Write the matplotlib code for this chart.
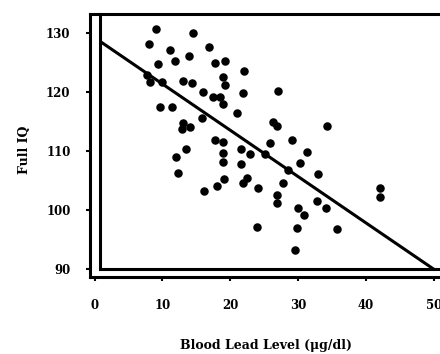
import numpy as np
import matplotlib.pyplot as plt

# blood lead (ug/dl) vs full IQ
lead = [9.02, 14.55, 8.07, 11.12, 13.88, 11.88, 9.31, 16.83, 17.78, 19.21,
        22.07, 18.92, 19.21, 7.69, 8.17, 9.98, 13.02, 14.36, 15.97, 17.50,
        18.45, 18.92, 21.88, 27.02, 9.69, 11.40, 13.02, 14.07, 12.93, 15.88,
        13.50, 11.95, 12.26, 21.02, 26.25, 26.92, 34.25, 17.78, 18.92, 18.92,
        21.59, 22.92, 25.87, 25.11, 29.11, 31.30, 30.25, 28.54, 18.92, 21.59,
        19.11, 22.45, 21.88, 18.07, 24.06, 27.78, 16.16, 26.92, 26.92, 29.97,
        30.82, 29.87, 23.97, 29.59, 32.92, 32.82, 34.16, 35.77, 42.06, 42.06]
iq = [130.7, 130.0, 128.1, 127.1, 126.1, 125.3, 124.7, 127.6, 124.9, 125.3,
      123.6, 122.5, 121.2, 122.9, 121.7, 121.7, 121.9, 121.5, 120.0, 119.2,
      119.2, 118.0, 119.8, 120.2, 117.5, 117.5, 114.7, 114.1, 113.7, 115.6,
      110.3, 109.0, 106.3, 116.4, 114.9, 114.2, 114.2, 111.9, 111.5, 109.7,
      110.3, 109.5, 111.4, 109.5, 111.9, 109.8, 108.0, 106.8, 108.1, 107.8,
      105.3, 105.4, 104.6, 104.1, 103.7, 104.6, 103.2, 102.5, 101.2, 100.3,
      99.2, 96.9, 97.1, 93.2, 106.1, 101.5, 100.3, 96.8, 103.7, 102.2]

# fitted line as printed
fit_intercept = 129.2
fit_slope = -0.785
fit_x = [1.1, 49.9]

xticks = [0, 10, 20, 30, 40, 50]
yticks = [90, 100, 110, 120, 130]

fnt = 'DejaVu Serif'

fig = plt.figure(figsize=(4.4, 3.54), dpi=100)
ax = fig.add_axes([90/440, 77/354, 370/440, 263/354])
ax.set_xlim(-0.67, 53.85)
ax.set_ylim(88.64, 133.2)

# double frame: spines are the outer lines, inner ones drawn here
ax.spines['right'].set_visible(False)
for s in ['left', 'bottom', 'top']:
    ax.spines[s].set_linewidth(2.2)
ax.plot([0.8, 0.8], [90, 133.2], color='black', lw=2.2, clip_on=False)
ax.plot([0.8, 53.85], [90, 90], color='black', lw=2.2, clip_on=False)

ax.scatter(lead, iq, s=26, color='black', zorder=3)

fx = np.array(fit_x)
ax.plot(fx, fit_intercept + fit_slope * fx, color='black', lw=2.2, zorder=2)

ax.set_xticks(xticks)
ax.set_yticks(yticks)
ax.tick_params(axis='y', direction='out', length=3, width=1.5, pad=11)
ax.tick_params(axis='x', direction='out', length=3, width=1.5, pad=13)
for lab in ax.get_xticklabels() + ax.get_yticklabels():
    lab.set_family(fnt)
    lab.set_fontweight('bold')
    lab.set_fontsize(8.5)

fig.text(266/440, 1 - 345/354, 'Blood Lead Level (\u03bcg/dl)', family=fnt,
         fontweight='bold', fontsize=9, ha='center', va='center')
fig.text(25/440, 1 - 150/354, 'Full IQ', family=fnt, fontweight='bold',
         fontsize=9, rotation=90, ha='center', va='center')

fig.savefig('out.png', dpi=100)
